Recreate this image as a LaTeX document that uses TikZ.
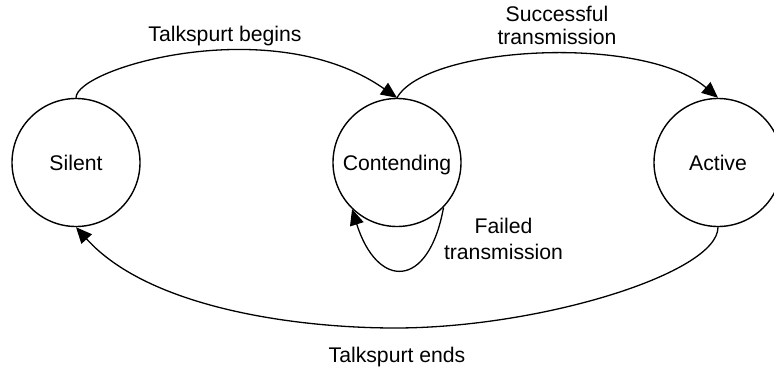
\documentclass[tikz,border=0pt]{standalone}
\usepackage{fontspec}
\setmainfont{Liberation Sans}
\usetikzlibrary{arrows.meta}
\begin{document}
\begin{tikzpicture}[x=1pt,y=1pt,
  state/.style={draw, circle, line width=1.4pt, minimum size=128pt, inner sep=0pt,
    text height=15.2pt, text depth=0pt, font=\fontsize{21.2}{24}\selectfont},
  trans/.style={line width=1.3pt, -{Triangle[length=16pt,width=14pt]}},
  lbl/.style={inner sep=0pt, align=center}]
  % page frame
  \useasboundingbox (0,0) rectangle (774,368);
  \clip (0,0) rectangle (774,368);

  % states
  \node[state] (silent) at (76,205.5) {Silent};
  \node[state] (cont)   at (397,205.5) {Contending};
  \node[state] (active) at (718,205.5) {Active};

  % transitions
  \draw[trans] (silent.north) .. controls +(0,30) and +(-124,87) .. (cont.north);
  \draw[trans] (cont.north) .. controls +(29,52) and +(-75,64) .. (active.north);
  \draw[trans] (cont.-44) .. controls +(-15,-83) and +(25,-80) .. (cont.-134);
  \coordinate (low) at (395,40);
  \draw[trans] (active.south) .. controls +(0,-46) and (540,40) .. (low)
                              .. controls (300,40) and +(74,-82) .. (silent.south);

  % labels
  \node[lbl, anchor=base, font=\fontsize{21.2}{24}\selectfont] (lbegin) at (225,326.3) {Talkspurt begins};
  \node[lbl, font=\fontsize{21.2}{23.3}\selectfont] (lsucc) at (557,342.5) {Successful\\transmission};
  \node[lbl, font=\fontsize{21.2}{26}\selectfont] (lfail) at (503.5,128.8) {Failed\\transmission};
  \node[lbl, anchor=base, font=\fontsize{21.2}{24}\selectfont] (lend) at (397,5.3) {Talkspurt ends};
\end{tikzpicture}
\end{document}
